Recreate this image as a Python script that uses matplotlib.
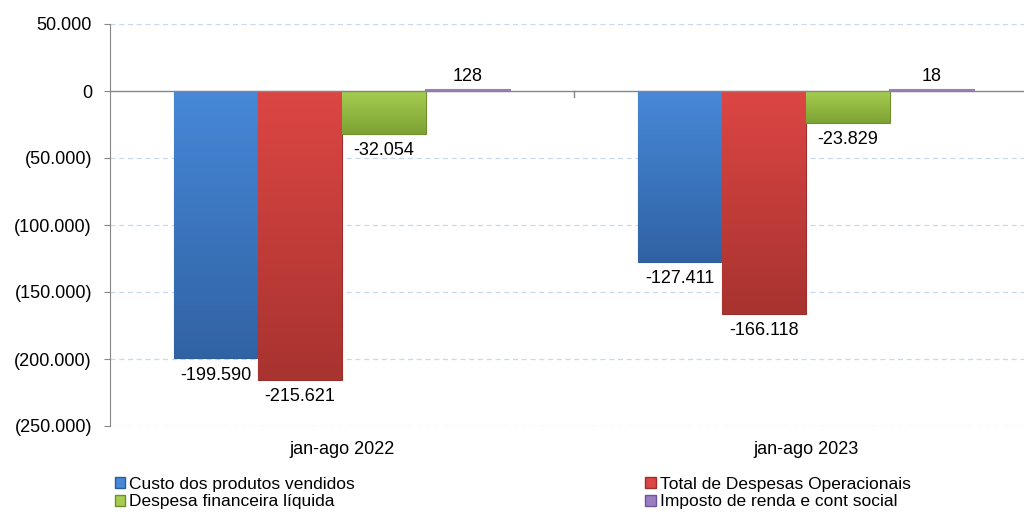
import numpy as np
import matplotlib
matplotlib.use("Agg")
import matplotlib.pyplot as plt
from matplotlib.patches import Patch
from matplotlib.colors import LinearSegmentedColormap
from matplotlib.ticker import FuncFormatter

plt.rcParams["font.family"] = ["Liberation Sans", "DejaVu Sans"]

# data
periods = ["jan-ago 2022", "jan-ago 2023"]
series = ["Custo dos produtos vendidos", "Total de Despesas Operacionais",
          "Despesa financeira líquida", "Imposto de renda e cont social"]
custo = [-199590, -127411]
despesas_op = [-215621, -166118]
fin = [-32054, -23829]
imposto = [128, 18]
values = [custo, despesas_op, fin, imposto]

# (light, dark) colour pairs per series
colors = [("#4788D8", "#3063A4"), ("#DC4644", "#A8332F"),
          ("#A5CD50", "#7DA234"), ("#9A7EC0", "#6E5494")]
edges = ["#2E5C96", "#98302D", "#6E8F2C", "#6E5494"]

def ytick_fmt(v, pos):
    if v == 0:
        return "0"
    s = f"{abs(v):,.0f}".replace(",", ".")
    return f"({s})" if v < 0 else s

def lab(v):
    return f"{v:,}".replace(",", ".")

FS = 13

fig = plt.figure(figsize=(10.24, 5.14), dpi=100)
ax = fig.add_axes([110/1024, 1 - 426/514, 1 - 110/1024, (426 - 24)/514])

x = np.arange(len(periods))
w = 0.181
for i, (vals, (c1, c2)) in enumerate(zip(values, colors)):
    xs = x + (i - 1.5) * w
    bars = ax.bar(xs, vals, width=w, color=c1, edgecolor=edges[i], linewidth=0.8, zorder=3)
    cmap = LinearSegmentedColormap.from_list("g", [c1, c2])
    for b, v in zip(bars, vals):
        x0, y0 = b.get_x(), b.get_y()
        h = b.get_height()
        grad = np.linspace(0, 1, 100).reshape(-1, 1)
        im = ax.imshow(grad, cmap=cmap, aspect="auto", zorder=3,
                       extent=[x0, x0 + b.get_width(), min(y0, y0 + h), max(y0, y0 + h)])
        im.set_clip_path(b)
        if v < 0:
            ax.annotate(lab(v), (x0 + b.get_width() / 2, v), xytext=(0, -6),
                        textcoords="offset points", ha="center", va="top", fontsize=FS)
        else:
            ax.annotate(lab(v), (x0 + b.get_width() / 2, v), xytext=(0, 4),
                        textcoords="offset points", ha="center", va="bottom", fontsize=FS)
    if i == 3:
        # tiny bars: show as a thin line like the reference
        for b in bars:
            ax.plot([b.get_x(), b.get_x() + b.get_width()], [1000, 1000],
                    color=c1, lw=1.5, zorder=4)

ax.set_xlim(-0.5, -0.5 + 914/464)
ax.set_ylim(-250000, 50000)
ax.set_yticks(np.arange(-250000, 50001, 50000))
ax.yaxis.set_major_formatter(FuncFormatter(ytick_fmt))
ax.tick_params(axis="y", length=4, color="#868686", labelsize=FS, pad=9)
ax.set_xticks([])

for y in [50000, -50000, -100000, -150000, -200000, -250000]:
    ax.axhline(y, color="#C6D9F1", lw=0.9, ls=(0, (4, 3)), zorder=1)
ax.axhline(0, color="#868686", lw=1, zorder=5)
ax.plot([0.5, 0.5], [0, -4500], color="#868686", lw=1, zorder=5)

for s in ["top", "right", "bottom"]:
    ax.spines[s].set_visible(False)
ax.spines["left"].set_color("#868686")

for xi, p in zip(x, periods):
    ax.annotate(p, (xi, -250000), xytext=(0, -11), textcoords="offset points",
                ha="center", va="top", fontsize=FS)

order = [0, 2, 1, 3]
handles = [Patch(facecolor=colors[k][0], edgecolor=edges[k]) for k in order]
fig.legend(handles, [series[k] for k in order], ncol=2, loc="upper left",
           bbox_to_anchor=(106/1024, 1 - 468/514),
           frameon=False, fontsize=12.5, handlelength=0.6, handleheight=0.6,
           handletextpad=0.25, columnspacing=16.7, labelspacing=0.15, borderpad=0)

fig.savefig("out.png", dpi=100)
